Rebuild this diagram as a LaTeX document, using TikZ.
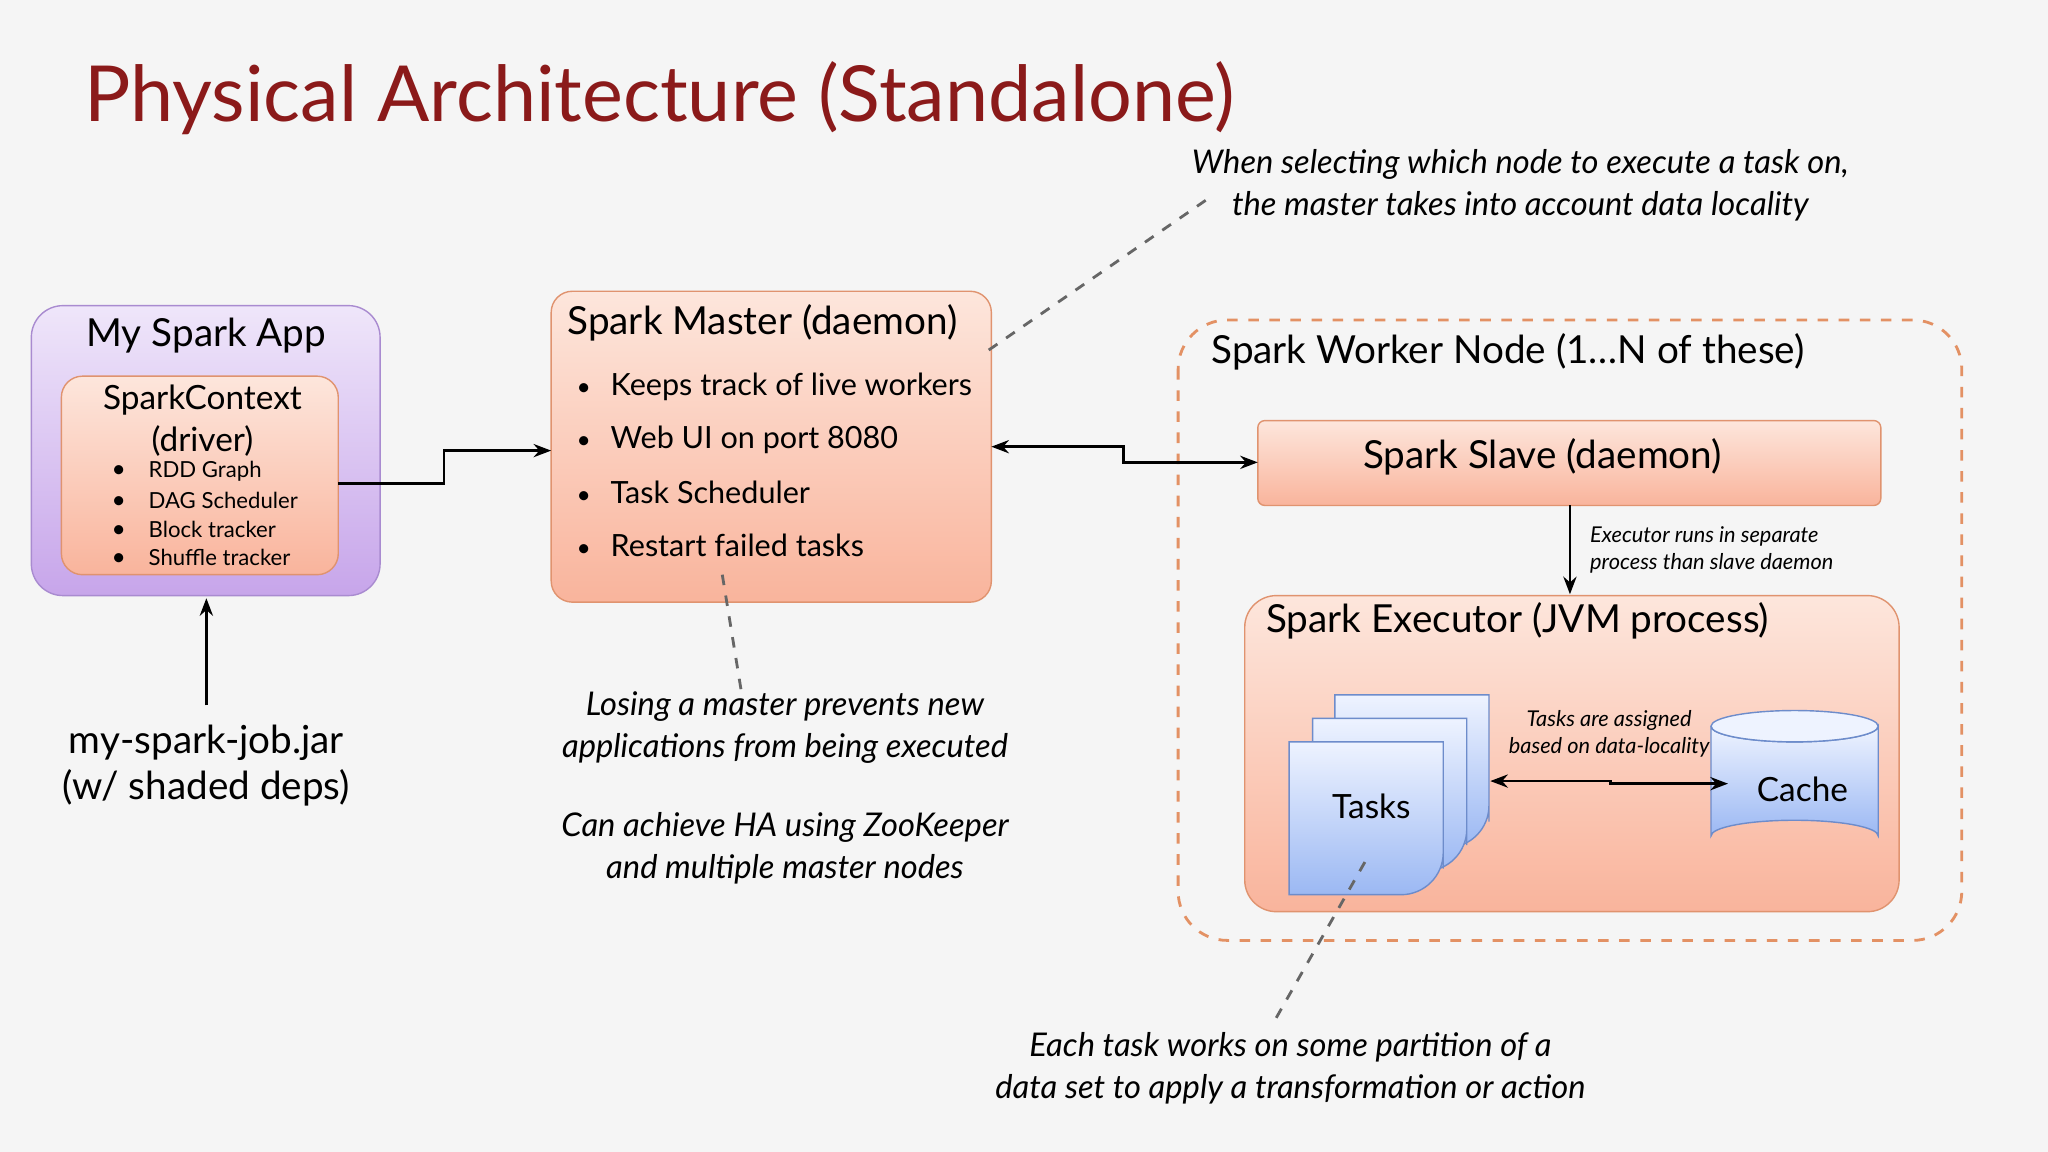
\documentclass[tikz,border=0pt]{standalone}
\usepackage{fontspec}
\setmainfont{Lato}
\usepackage{tikz}
\usetikzlibrary{arrows.meta,positioning}
\definecolor{titlered}{HTML}{8B1A1A}
\definecolor{peachtop}{HTML}{FDE6DC}
\definecolor{peachbot}{HTML}{F9B49C}
\definecolor{peachline}{HTML}{E0936F}
\definecolor{lavtop}{HTML}{EFE6FA}
\definecolor{lavbot}{HTML}{C7A5EA}
\definecolor{lavline}{HTML}{A98BD0}
\definecolor{bluetop}{HTML}{EEF3FF}
\definecolor{bluebot}{HTML}{9BB8F3}
\definecolor{blueline}{HTML}{6D8CCB}
\tikzset{
  peachbox/.style={draw=peachline, rounded corners=6pt, top color=peachtop, bottom color=peachbot},
  lavbox/.style={draw=lavline, rounded corners=9pt, top color=lavtop, bottom color=lavbot},
  taskbox/.style={draw=blueline, top color=bluetop, bottom color=bluebot},
  link/.style={-{Stealth[length=5pt]}, thick},
  note/.style={dashed, gray!80!black, thick},
  big/.style={font=\fontsize{11}{13}\selectfont},
  mid/.style={font=\fontsize{8.7}{11}\selectfont},
  small/.style={font=\fontsize{6.3}{8}\selectfont},
  remark/.style={font=\fontsize{9.3}{12}\selectfont\itshape, align=center},
  tiny/.style={font=\fontsize{6.2}{7.8}\selectfont\itshape, align=left},
}
\newcommand{\bul}[1]{\makebox[#1][l]{\scriptsize\textbullet}}
\begin{document}
\begin{tikzpicture}[x=0.01306cm,y=-0.01306cm]
  \fill[gray!8] (0,0) rectangle (1568,882);
  \useasboundingbox (0,0) rectangle (1568,882);

  % title
  \node[anchor=west, text=titlered, font=\fontsize{22}{26}\selectfont] (title) at (55,75) {Physical Architecture (Standalone)};

  % my spark app
  \draw[lavbox] (24,234) rectangle (291,456);
  \node[big] (appname) at (158,257) {My Spark App};
  \draw[peachbox] (47,288) rectangle (259,440);
  \node[mid, font=\fontsize{9.5}{12}\selectfont, align=center] (ctx) at (155,322) {SparkContext\\(driver)};
  \foreach \t [count=\i] in {RDD Graph, DAG Scheduler, Block tracker, Shuffle tracker}
    \node[small, anchor=west] (ctx\i) at (76,339+22*\i) {\bul{0.37cm}\t};
  \node[big, align=center] (jar) at (158,586) {my-spark-job.jar\\(w/ shaded deps)};
  \coordinate (jartop) at (158,540);
  \coordinate (appbot) at (158,458);
  \draw[link] (jartop) -- (appbot);

  % master
  \draw[peachbox] (422,223) rectangle (759,461);
  \node[big, anchor=west] (master) at (425,247) {Spark Master (daemon)};
  \foreach \t [count=\i] in {Keeps track of live workers, Web UI on port 8080, Task Scheduler, Restart failed tasks}
    \node[mid, anchor=west] (mb\i) at (432,256+40.3*\i) {\bul{0.34cm}\t};
  \coordinate (appout) at (259,370);
  \coordinate (mastin) at (422,345);
  \draw[link] (appout) -- (340,370) |- (mastin);

  % worker
  \draw[dashed, draw=peachline!90!orange, thick, rounded corners=14pt] (902,245) rectangle (1502,720);
  \node[big, anchor=west] (worker) at (918,269) {Spark Worker Node (1\dots N of these)};
  \draw[peachbox, rounded corners=2pt] (963,322) rectangle (1440,387);
  \node[big] (slave) at (1181,350) {Spark Slave (daemon)};
  \coordinate (mastout) at (759,342);
  \coordinate (slavein) at (963,354);
  \draw[{Stealth[length=5pt]}-{Stealth[length=5pt]}, thick] (mastout) -- (860,342) |- (slavein);
  \coordinate (slavebot) at (1202,387);
  \coordinate (exectop) at (1202,455);
  \draw[link] (slavebot) -- (exectop);
  \node[tiny, anchor=west] (execnote) at (1208,421) {Executor runs in separate\\process than slave daemon};

  % executor
  \draw[peachbox, rounded corners=9pt] (953,456) rectangle (1454,698);
  \node[big, anchor=west] (executor) at (960,475) {Spark Executor (JVM process)};
  \foreach \dx/\dy in {35/-36, 18/-18, 0/0}
    \draw[taskbox] (987+\dx,568+\dy) -- (1105+\dx,568+\dy) -- (1105+\dx,665+\dy)
      [rounded corners=12pt] -- (1105+\dx,685+\dy) [sharp corners] -- (987+\dx,685+\dy) -- cycle;
  \node[mid, font=\fontsize{9.5}{12}\selectfont] (tasks) at (1050,617) {Tasks};
  % cache
  \draw[draw=blueline, top color=bluetop, bottom color=bluebot]
    (1310,556) -- (1310,640) arc[start angle=180, end angle=360, x radius=64, y radius=12]
    -- (1438,556) arc[start angle=0, end angle=180, x radius=64, y radius=12];
  \draw[draw=blueline, fill=bluetop] (1374,556) ellipse[x radius=64, y radius=12];
  \node[mid, font=\fontsize{9.5}{12}\selectfont] (cache) at (1380,604) {Cache};
  \coordinate (taskout) at (1141,598);
  \coordinate (cachein) at (1323,600);
  \draw[{Stealth[length=5pt]}-{Stealth[length=5pt]}, thick] (taskout) -- (1233,598) |- (cachein);
  \node[tiny, align=center] (assign) at (1232,562) {Tasks are assigned\\based on data-locality};

  % remarks
  \node[remark] (locnote) at (1164,142) {When selecting which node to execute a task on,\\the master takes into account data locality};
  \coordinate (mastcorner) at (757,268);
  \coordinate (locend) at (928,150);
  \draw[note] (mastcorner) -- (locend);
  \node[remark] (hanote) at (601,603) {Losing a master prevents new\\applications from being executed\\[2.2ex]Can achieve HA using ZooKeeper\\and multiple master nodes};
  \coordinate (mastbot) at (553,440);
  \coordinate (haend) at (568,532);
  \draw[note] (mastbot) -- (haend);
  \node[remark] (tasknote) at (988,818) {Each task works on some partition of a\\data set to apply a transformation or action};
  \coordinate (taskin) at (1045,660);
  \coordinate (taskend) at (975,783);
  \draw[note] (taskin) -- (taskend);
\end{tikzpicture}
\end{document}
